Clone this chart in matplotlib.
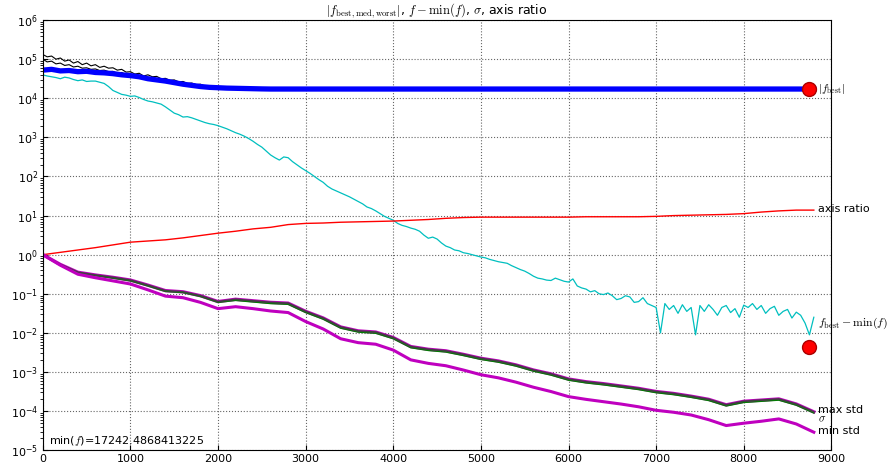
import matplotlib
matplotlib.use("Agg")
import matplotlib.pyplot as plt
from matplotlib.ticker import LogLocator, NullFormatter
import numpy as np

plt.rcParams["mathtext.fontset"] = "cm"

# iterations
it_50 = np.arange(0, 8801, 50)
it_200 = np.arange(0, 8801, 200)
it_black = np.arange(0, 2001, 50)
it_blue = np.arange(0, 2501, 100)

# f_best - min(f), log10, every 50 iterations
cyan_log = [
    4.60, 4.57, 4.55, 4.53, 4.50, 4.54, 4.52, 4.48, 4.45, 4.47, 4.43, 4.44, 4.44, 4.41, 4.38, 4.30, 4.20, 4.15, 4.10, 4.08,
    4.05, 4.06, 4.02, 3.97, 3.93, 3.91, 3.88, 3.85, 3.78, 3.70, 3.62, 3.58, 3.52, 3.53, 3.50, 3.46, 3.42, 3.38, 3.35, 3.33,
    3.30, 3.26, 3.22, 3.17, 3.12, 3.08, 3.03, 2.97, 2.90, 2.82, 2.75, 2.65, 2.55, 2.48, 2.42, 2.50, 2.48, 2.38, 2.30, 2.22,
    2.15, 2.08, 2.00, 1.92, 1.85, 1.75, 1.68, 1.63, 1.58, 1.53, 1.48, 1.42, 1.36, 1.30, 1.22, 1.18, 1.12, 1.05, 0.98, 0.93,
    0.88, 0.80, 0.75, 0.72, 0.68, 0.65, 0.60, 0.50, 0.42, 0.45, 0.40, 0.30, 0.22, 0.18, 0.12, 0.10, 0.05, 0.03, 0.00, -0.03,
    -0.06, -0.08, -0.12, -0.15, -0.18, -0.20, -0.22, -0.28, -0.33, -0.38, -0.42, -0.48, -0.55, -0.60, -0.62, -0.65, -0.66, -0.60, -0.64, -0.68,
    -0.70, -0.62, -0.80, -0.85, -0.88, -0.95, -0.92, -1.00, -1.02, -0.98, -1.05, -1.15, -1.12, -1.05, -1.08, -1.22, -1.20, -1.10, -1.25, -1.30,
    -1.35, -2.00, -1.25, -1.40, -1.30, -1.50, -1.28, -1.45, -1.35, -2.05, -1.30, -1.45, -1.28, -1.40, -1.55, -1.35, -1.30, -1.48, -1.38, -1.60,
    -1.29, -1.35, -1.25, -1.40, -1.30, -1.50, -1.38, -1.32, -1.55, -1.45, -1.40, -1.62, -1.47, -1.55, -1.75, -2.05, -1.60,
]

# worst / median f (black), log10, 0..2000 every 50
worst_log = [
    5.12, 5.06, 5.08, 5.00, 5.03, 4.95, 4.98, 4.90, 4.94, 4.86, 4.90, 4.83, 4.86, 4.79, 4.82, 4.77, 4.78, 4.72, 4.74, 4.67,
    4.68, 4.62, 4.64, 4.57, 4.60, 4.55, 4.56, 4.50, 4.51, 4.46, 4.47, 4.42, 4.43, 4.38, 4.39, 4.35, 4.36, 4.31, 4.32, 4.28, 4.28,
]
median_log = [
    5.00, 4.93, 4.95, 4.88, 4.90, 4.84, 4.86, 4.80, 4.82, 4.77, 4.78, 4.74, 4.75, 4.71, 4.72, 4.68, 4.69, 4.64, 4.66, 4.60,
    4.61, 4.56, 4.57, 4.52, 4.53, 4.49, 4.49, 4.45, 4.45, 4.41, 4.41, 4.37, 4.37, 4.34, 4.34, 4.31, 4.31, 4.29, 4.29, 4.27, 4.26,
]

# |f_best| (blue), log10, 0..2500 every 100, then flat at min(f)
blue_log = [4.72, 4.74, 4.70, 4.71, 4.68, 4.69, 4.66, 4.65, 4.63, 4.60, 4.58, 4.55, 4.50,
            4.47, 4.44, 4.40, 4.36, 4.33, 4.30, 4.28, 4.27, 4.26, 4.255, 4.25, 4.245, 4.24]
f_min = 17242.4868413225

# axis ratio, max std, sigma, min std: log10 every 200
axis_log = [0.00, 0.06, 0.12, 0.18, 0.25, 0.32, 0.35, 0.38, 0.43, 0.49, 0.55, 0.60, 0.66, 0.70, 0.77,
            0.80, 0.81, 0.83, 0.84, 0.85, 0.86, 0.88, 0.90, 0.93, 0.95, 0.96, 0.96, 0.96, 0.96, 0.96,
            0.96, 0.97, 0.97, 0.97, 0.97, 0.98, 1.00, 1.01, 1.02, 1.03, 1.05, 1.09, 1.12, 1.14, 1.14]
maxstd_log = [0.00, -0.25, -0.45, -0.52, -0.58, -0.65, -0.78, -0.92, -0.95, -1.05, -1.20, -1.14, -1.18, -1.22, -1.24,
              -1.45, -1.62, -1.85, -1.95, -1.98, -2.12, -2.35, -2.42, -2.46, -2.55, -2.65, -2.72, -2.82, -2.95, -3.05,
              -3.18, -3.25, -3.30, -3.36, -3.42, -3.50, -3.55, -3.62, -3.70, -3.84, -3.75, -3.72, -3.69, -3.82, -4.02]
sigma_log = [0.00, -0.26, -0.46, -0.53, -0.60, -0.67, -0.80, -0.94, -0.97, -1.07, -1.22, -1.17, -1.21, -1.25, -1.27,
             -1.48, -1.65, -1.88, -1.98, -2.01, -2.15, -2.38, -2.45, -2.49, -2.58, -2.68, -2.75, -2.85, -2.98, -3.08,
             -3.21, -3.28, -3.33, -3.39, -3.45, -3.53, -3.58, -3.65, -3.73, -3.87, -3.78, -3.75, -3.72, -3.85, -4.05]
minstd_log = [0.00, -0.27, -0.50, -0.59, -0.67, -0.75, -0.90, -1.06, -1.10, -1.22, -1.38, -1.33, -1.38, -1.44, -1.48,
              -1.71, -1.90, -2.15, -2.25, -2.29, -2.44, -2.69, -2.78, -2.84, -2.95, -3.07, -3.15, -3.26, -3.39, -3.50,
              -3.63, -3.70, -3.76, -3.82, -3.89, -3.98, -4.03, -4.10, -4.22, -4.37, -4.31, -4.26, -4.20, -4.33, -4.54]

dot_x = 8740
dot_y = [f_min, 4.4e-3]

fig = plt.figure(figsize=(8.92, 4.67), dpi=100)
ax = fig.add_axes([0.048, 0.036, 0.884, 0.921])

blue_x = np.concatenate([it_blue, [2600, 8800]])
blue_y = np.concatenate([10 ** np.array(blue_log), [f_min, f_min]])

ax.semilogy(it_black, 10 ** np.array(worst_log), color="k", lw=0.8)
ax.semilogy(it_black, 10 ** np.array(median_log), color="k", lw=0.8)
ax.semilogy(blue_x, blue_y, color="b", lw=3.8)
ax.semilogy(it_50, 10 ** np.array(cyan_log), color="c", lw=0.9)
ax.semilogy(it_200, 10 ** np.array(axis_log), color="r", lw=1)
ax.semilogy(it_200, 10 ** np.array(maxstd_log), color="m", lw=2.4)
ax.semilogy(it_200, 10 ** np.array(sigma_log), color="g", lw=1)
ax.semilogy(it_200, 10 ** np.array(maxstd_log), color="#404040", lw=1.2)
ax.semilogy(it_200, 10 ** np.array(minstd_log), color="m", lw=2.2)
ax.plot([dot_x, dot_x], dot_y, "o", color="r", markersize=10, markeredgecolor="#aa0000")

tx = 8850
ax.text(tx, f_min, r"$|f_\mathrm{best}|$", fontsize=8, va="center", ha="left")
ax.text(tx, 10 ** 1.17, "axis ratio", fontsize=8, va="center", ha="left")
ax.text(tx, 10 ** -1.75, r"$f_\mathrm{best}-\min(f)$", fontsize=8.5, va="center", ha="left")
ax.text(tx, 10 ** -3.97, "max std", fontsize=8, va="center", ha="left")
ax.text(tx, 10 ** -4.2, r"$\sigma$", fontsize=8, va="center", ha="left")
ax.text(tx, 10 ** -4.5, "min std", fontsize=8, va="center", ha="left")
ax.text(0.008, 0.005, r"min($f$)=17242.4868413225", transform=ax.transAxes,
        fontsize=8, va="bottom", ha="left")

ax.set_xlim(0, 9000)
ax.set_ylim(1e-5, 1e6)
ax.set_xticks(np.arange(0, 9001, 1000))
ax.yaxis.set_major_locator(LogLocator(base=10, numticks=20))
ax.yaxis.set_minor_locator(LogLocator(base=10, subs=np.arange(2, 10), numticks=20))
ax.yaxis.set_minor_formatter(NullFormatter())
ax.grid(True, which="major", ls=":", color="0.4", lw=0.8)
ax.tick_params(labelsize=8, direction="in")
ax.tick_params(axis="x", pad=3)
ax.set_title(r"$|f_\mathrm{best,med,worst}|$, $f-\min(f)$, $\sigma$, axis ratio", fontsize=9, pad=4)

fig.savefig("out.png", dpi=100)
